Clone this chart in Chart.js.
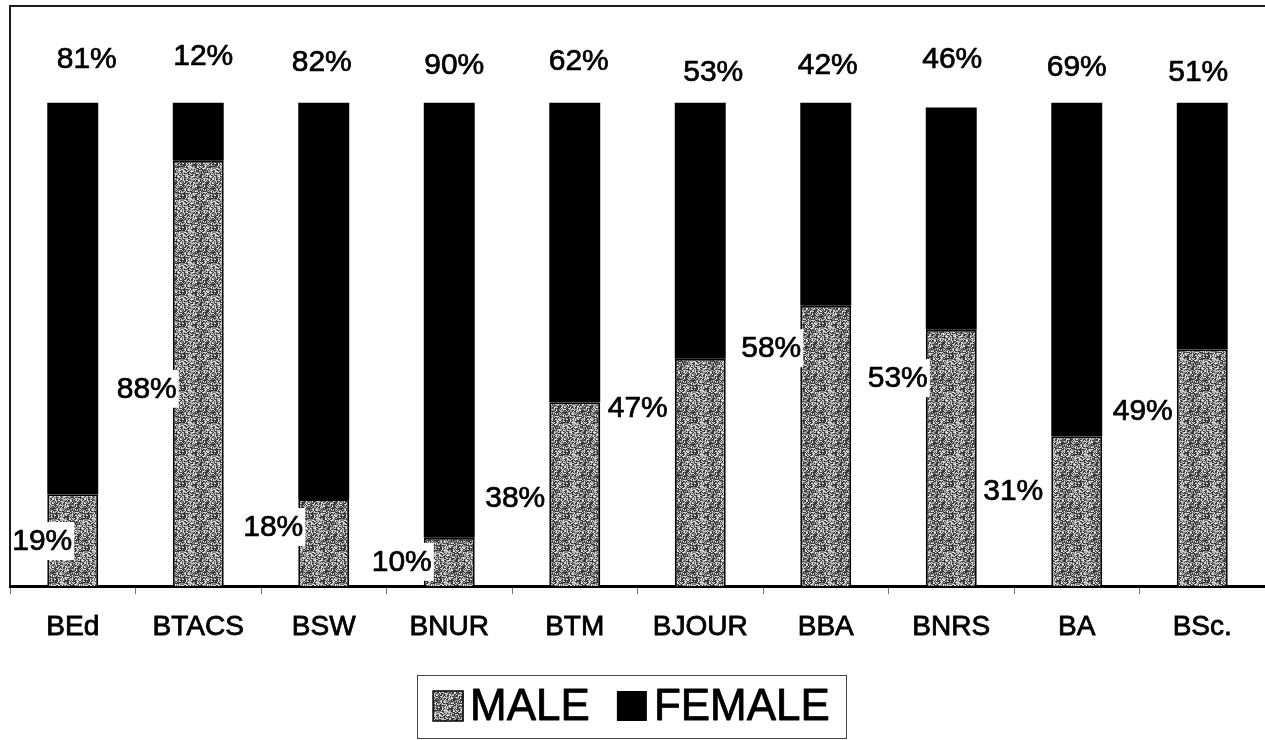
<!DOCTYPE html>
<html>
<head>
<meta charset="utf-8">
<script src="https://cdn.jsdelivr.net/npm/chart.js@4.4.1/dist/chart.umd.min.js"></script>
<style>
  html, body { margin: 0; padding: 0; background: #fff; }
  #wrap { width: 1265px; height: 740px; position: relative; }
</style>
</head>
<body>
<div id="wrap"><canvas id="c" width="1265" height="740"></canvas></div>
<script>
// ---- data ----
const categories = ['BEd', 'BTACS', 'BSW', 'BNUR', 'BTM', 'BJOUR', 'BBA', 'BNRS', 'BA', 'BSc.'];
const maleValues = [19, 88, 18, 10, 38, 47, 58, 53, 31, 49];
const femaleValues = [81, 12, 82, 90, 62, 53, 42, 46, 69, 51];
const seriesNames = ['MALE', 'FEMALE'];

// ---- label layout (value-units levels and pixel nudges) ----
const maleLabelLevel = [9.3, 40.8, 12.2, 5.0, 18.2, 36.8, 49.2, 43.0, 19.7, 36.2];
const maleLabelDx = [25, 4, 5, 8, -4, -7, 1, 2, -8, -4];
const femaleLabelLevel = [108.8, 109.5, 108.2, 107.6, 108.4, 106.1, 107.6, 108.8, 107.2, 106.1];
const femaleLabelDx = [14, 5, -2, 5, 4, 13, 2, 1, 0, -4];

const FONT = '"Liberation Sans", Arial, Helvetica, sans-serif';

// deterministic speckled grey texture for MALE
function hash(x, y) {
  let n = Math.imul(x, 374761393) + Math.imul(y, 668265263);
  n = Math.imul(n ^ (n >>> 13), 1274126177);
  n = n ^ (n >>> 16);
  return (n >>> 0) / 4294967295;
}
function makeTexture() {
  const size = 32;
  const cv = document.createElement('canvas');
  cv.width = size; cv.height = size;
  const cx = cv.getContext('2d');
  const img = cx.createImageData(size, size);
  for (let y = 0; y < size; y++) {
    for (let x = 0; x < size; x++) {
      const h = hash(x, y);
      let g;
      if (h < 0.35) g = 55;
      else if (h < 0.55) g = 125;
      else if (h < 0.80) g = 180;
      else g = 230;
      const i = (y * size + x) * 4;
      img.data[i] = g; img.data[i + 1] = g; img.data[i + 2] = g; img.data[i + 3] = 255;
    }
  }
  cx.putImageData(img, 0, 0);
  return cx.createPattern(cv, 'repeat');
}
const maleFill = makeTexture();

function heavyText(ctx, txt, x, y, sw) {
  ctx.lineWidth = sw;
  ctx.strokeStyle = '#000';
  ctx.lineJoin = 'round';
  ctx.strokeText(txt, x, y);
  ctx.fillText(txt, x, y);
}

const bgPlugin = {
  id: 'bg',
  beforeDraw(chart) {
    const ctx = chart.ctx;
    ctx.save();
    ctx.fillStyle = '#fff';
    ctx.fillRect(0, 0, chart.width, chart.height);
    ctx.restore();
  }
};

const framePlugin = {
  id: 'frame',
  afterDraw(chart) {
    const ctx = chart.ctx;
    const a = chart.chartArea;
    ctx.save();
    ctx.strokeStyle = '#1a1a1a';
    ctx.lineWidth = 2;
    ctx.beginPath();
    ctx.moveTo(a.left, a.bottom);
    ctx.lineTo(a.left, a.top);
    ctx.lineTo(chart.width, a.top);
    ctx.stroke();
    ctx.restore();
  }
};

const labelPlugin = {
  id: 'valueLabels',
  afterDatasetsDraw(chart) {
    const ctx = chart.ctx;
    const y = chart.scales.y;
    const maleMeta = chart.getDatasetMeta(0);
    const femaleMeta = chart.getDatasetMeta(1);
    ctx.save();
    ctx.font = '30px ' + FONT;
    ctx.textBaseline = 'middle';
    // female labels above the bars
    ctx.textAlign = 'center';
    ctx.fillStyle = '#000';
    femaleMeta.data.forEach((bar, i) => {
      heavyText(ctx, femaleValues[i] + '%', bar.x + femaleLabelDx[i], y.getPixelForValue(femaleLabelLevel[i]), 0.7);
    });
    // male labels, left of bars with white box
    maleMeta.data.forEach((bar, i) => {
      const txt = maleValues[i] + '%';
      const w = ctx.measureText(txt).width;
      const right = bar.x - bar.width / 2 + maleLabelDx[i];
      const cy = y.getPixelForValue(maleLabelLevel[i]);
      ctx.fillStyle = '#fff';
      ctx.fillRect(right - w - 3, cy - 19, w + 5, 38);
      ctx.fillStyle = '#000';
      ctx.textAlign = 'right';
      heavyText(ctx, txt, right, cy + 1, 0.7);
    });
    ctx.restore();
  }
};

const legendPlugin = {
  id: 'boxLegend',
  afterDraw(chart) {
    const ctx = chart.ctx;
    ctx.save();
    ctx.font = '44px ' + FONT;
    ctx.textBaseline = 'middle';
    ctx.textAlign = 'left';
    const box = 30, gapText = 7, gapItem = 27;
    const w0 = ctx.measureText(seriesNames[0]).width;
    const w1 = ctx.measureText(seriesNames[1]).width;
    const inner = box + gapText + w0 + gapItem + box + gapText + w1;
    const cx = 631.5;
    const pad = 16;
    const left = cx - inner / 2;
    const top = 675, bottom = 738, mid = 707;
    ctx.strokeStyle = '#444';
    ctx.lineWidth = 1;
    ctx.strokeRect(Math.round(left - pad) + 0.5, top + 0.5, Math.round(inner + 2 * pad), bottom - top);
    let x = left;
    ctx.fillStyle = maleFill;
    ctx.fillRect(x, mid - 16, box, box);
    ctx.strokeStyle = '#000';
    ctx.lineWidth = 1.5;
    ctx.strokeRect(x, mid - 16, box, box);
    x += box + gapText;
    ctx.fillStyle = '#000';
    heavyText(ctx, seriesNames[0], x, mid + 1, 0.8);
    x += w0 + gapItem;
    ctx.fillRect(x, mid - 16, box, box);
    x += box + gapText;
    heavyText(ctx, seriesNames[1], x, mid + 1, 0.8);
    ctx.restore();
  }
};

new Chart(document.getElementById('c'), {
  type: 'bar',
  data: {
    labels: categories,
    datasets: [
      {
        label: seriesNames[0],
        data: maleValues,
        backgroundColor: maleFill,
        borderColor: '#000',
        borderWidth: 2,
        borderSkipped: 'bottom'
      },
      {
        label: seriesNames[1],
        data: femaleValues,
        backgroundColor: '#000',
        borderColor: '#000',
        borderWidth: 0
      }
    ]
  },
  options: {
    responsive: false,
    animation: false,
    devicePixelRatio: 1,
    layout: { padding: { left: 10, top: 6, right: 0, bottom: 65 } },
    datasets: { bar: { categoryPercentage: 1.0, barPercentage: 0.406 } },
    plugins: {
      legend: { display: false },
      tooltip: { enabled: false },
      title: { display: false }
    },
    scales: {
      x: {
        stacked: true,
        afterFit(scale) { scale.height = 89; },
        border: { display: true, color: '#000', width: 3 },
        grid: {
          offset: true,
          drawOnChartArea: false,
          drawTicks: true,
          tickLength: 8,
          color: '#777',
          lineWidth: 1
        },
        ticks: {
          color: '#000',
          padding: 16,
          maxRotation: 0,
          autoSkip: false,
          textStrokeColor: '#000',
          textStrokeWidth: 0.8,
          font: { family: FONT, size: 28 }
        }
      },
      y: {
        stacked: true,
        display: false,
        min: 0,
        max: 120
      }
    }
  },
  plugins: [bgPlugin, labelPlugin, framePlugin, legendPlugin]
});
</script>
</body>
</html>
